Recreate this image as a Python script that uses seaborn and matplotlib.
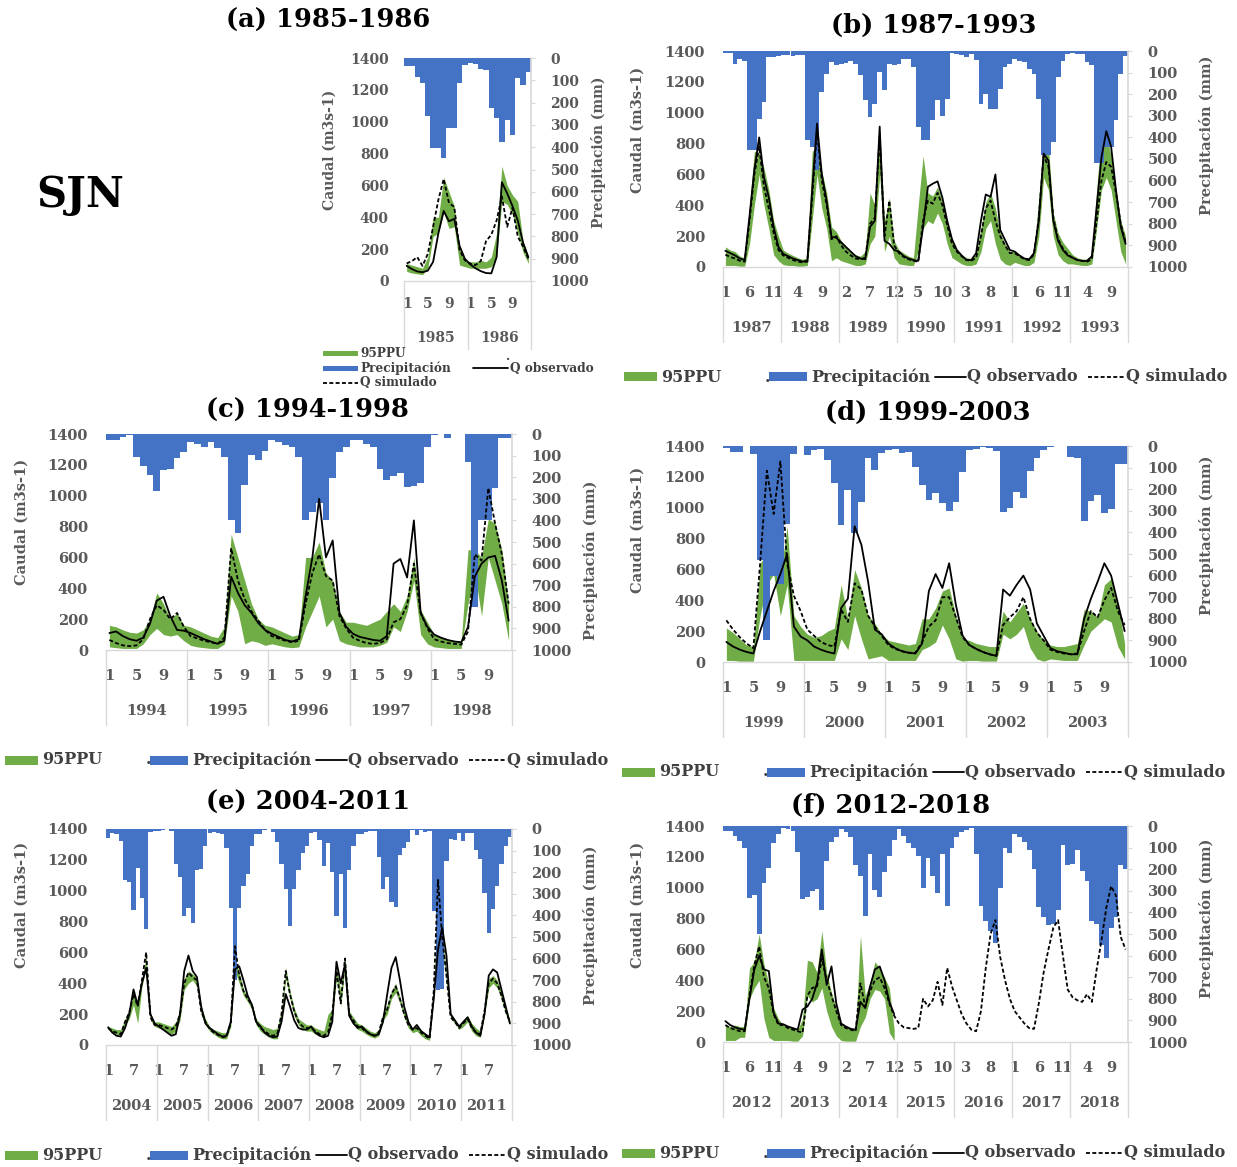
import numpy as np
import matplotlib
matplotlib.use("Agg")
import matplotlib.pyplot as plt
import matplotlib.transforms as mtransforms
from matplotlib.patches import Rectangle
from matplotlib.lines import Line2D
import seaborn as sns

# Estilo
sns.set_theme(style="white")
plt.rcParams['font.family'] = ['DejaVu Serif']
plt.rcParams['font.weight'] = 'bold'
plt.rcParams['axes.labelweight'] = 'bold'

# ---------------- datos (mensuales) ----------------
# (a) 1985-1986
prec_a = [37, 37, 85, 110, 260, 405, 405, 450, 312, 312, 112, 30,
          22, 25, 50, 52, 225, 270, 375, 277, 345, 90, 120, 65]
obs_a = [95, 75, 60, 55, 65, 120, 300, 440, 375, 390, 220, 140,
         105, 80, 62, 50, 48, 150, 620, 550, 470, 380, 240, 150]
sim_a = [110, 125, 150, 95, 170, 340, 510, 640, 490, 465, 195, 130,
         110, 100, 125, 250, 290, 380, 530, 340, 460, 280, 215, 140]
hi_a = [110, 100, 90, 80, 150, 400, 400, 650, 560, 470, 200, 130,
        120, 120, 130, 120, 150, 300, 720, 600, 540, 500, 250, 150]
lo_a = [60, 50, 45, 40, 80, 280, 300, 430, 330, 340, 100, 90,
        80, 80, 80, 80, 90, 150, 500, 480, 420, 300, 180, 110]

# (b) 1987-1993
prec_b = [10, 10, 62, 35, 46, 460, 460, 313, 236, 30, 30, 25,
          20, 20, 22, 20, 18, 413, 444, 552, 190, 105, 51, 66,
          60, 55, 45, 60, 110, 228, 305, 244, 97, 182, 62, 66,
          58, 35, 35, 74, 352, 413, 413, 320, 228, 300, 220, 10,
          15, 20, 30, 12, 40, 244, 198, 267, 267, 175, 74, 59,
          35, 45, 50, 82, 105, 220, 480, 480, 420, 120, 45, 12,
          10, 12, 15, 50, 66, 520, 520, 445, 445, 320, 105, 25]
obs_b = [105, 90, 75, 55, 45, 330, 630, 840, 580, 450, 260, 130,
         85, 70, 55, 45, 35, 40, 500, 930, 600, 430, 195, 190,
         160, 130, 100, 70, 55, 50, 260, 300, 910, 170, 150, 110,
         100, 70, 55, 45, 40, 260, 520, 540, 555, 450, 300, 180,
         110, 75, 45, 45, 90, 300, 470, 455, 600, 240, 175, 110,
         100, 75, 55, 50, 90, 300, 735, 690, 300, 170, 110, 75,
         60, 45, 40, 40, 70, 390, 710, 880, 780, 500, 260, 150]
sim_b = [80, 65, 55, 40, 35, 300, 600, 780, 520, 380, 220, 110,
         75, 60, 45, 35, 30, 35, 450, 880, 560, 400, 180, 200,
         140, 100, 75, 55, 50, 60, 280, 320, 850, 200, 430, 140,
         90, 65, 50, 40, 35, 300, 430, 410, 480, 400, 270, 150,
         100, 70, 45, 40, 60, 200, 380, 430, 300, 200, 140, 90,
         90, 70, 50, 45, 80, 320, 720, 650, 320, 180, 120, 80,
         60, 45, 40, 35, 50, 300, 560, 680, 650, 480, 280, 160]
hi_b = [130, 110, 100, 70, 60, 400, 750, 740, 640, 500, 300, 200,
        110, 90, 75, 60, 50, 60, 750, 780, 620, 480, 260, 230,
        170, 130, 100, 80, 70, 100, 480, 400, 880, 300, 450, 170,
        110, 90, 70, 60, 400, 720, 480, 460, 520, 420, 280, 170,
        110, 80, 60, 55, 80, 250, 420, 480, 380, 220, 150, 100,
        100, 80, 60, 55, 100, 450, 820, 780, 350, 220, 160, 120,
        80, 60, 50, 50, 80, 500, 880, 860, 720, 500, 300, 200]
lo_b = [10, 10, 10, 5, 5, 150, 400, 600, 400, 250, 80, 40,
        15, 10, 10, 5, 5, 10, 300, 600, 380, 250, 40, 60,
        40, 30, 20, 10, 10, 20, 150, 200, 600, 100, 200, 60,
        20, 15, 10, 10, 100, 250, 300, 280, 350, 280, 150, 60,
        40, 20, 10, 10, 20, 100, 250, 300, 150, 50, 20, 10,
        30, 20, 10, 10, 30, 200, 580, 500, 200, 80, 40, 20,
        20, 15, 10, 10, 20, 250, 500, 580, 500, 300, 100, 20]

# (c) 1994-1998
prec_c = [30, 28, 12, 5, 105, 150, 190, 265, 167, 160, 112, 82,
          35, 45, 58, 35, 65, 105, 400, 460, 235, 95, 120, 80,
          28, 35, 50, 60, 105, 400, 360, 320, 400, 205, 85, 60,
          30, 30, 45, 60, 160, 215, 195, 180, 245, 240, 225, 60,
          5, 0, 20, 0, 0, 130, 800, 400, 400, 250, 20, 20]
obs_c = [110, 120, 90, 70, 60, 80, 170, 320, 345, 220, 130, 125,
         110, 90, 70, 55, 40, 60, 475, 370, 290, 240, 175, 130,
         105, 85, 65, 55, 70, 350, 600, 980, 600, 710, 240, 150,
         105, 85, 75, 65, 60, 90, 560, 590, 470, 840, 240, 150,
         100, 80, 65, 55, 50, 150, 475, 560, 600, 610, 450, 190]
sim_c = [65, 45, 30, 25, 30, 70, 200, 290, 260, 200, 240, 150,
         90, 75, 60, 50, 40, 80, 660, 450, 330, 250, 190, 130,
         90, 75, 60, 50, 60, 300, 500, 620, 480, 450, 220, 140,
         80, 60, 45, 40, 45, 70, 180, 200, 290, 560, 240, 140,
         70, 55, 45, 40, 35, 120, 620, 580, 1050, 820, 620, 300]
hi_c = [160, 150, 130, 115, 110, 130, 200, 370, 300, 200, 240, 160,
        150, 130, 110, 90, 80, 150, 750, 600, 450, 300, 200, 160,
        150, 130, 110, 90, 100, 600, 600, 700, 500, 450, 250, 180,
        180, 170, 160, 180, 200, 250, 300, 250, 350, 600, 260, 180,
        100, 80, 70, 60, 60, 650, 650, 600, 850, 820, 650, 300]
lo_c = [20, 15, 10, 10, 10, 40, 100, 140, 100, 90, 100, 60,
        30, 20, 15, 10, 10, 40, 350, 250, 40, 60, 50, 30,
        40, 30, 20, 15, 20, 150, 250, 350, 150, 200, 60, 40,
        30, 20, 20, 20, 30, 50, 150, 120, 250, 450, 100, 40,
        20, 15, 10, 10, 10, 300, 500, 220, 600, 450, 300, 60]

# (d) 1999-2003
prec_d = [10, 30, 30, 0, 35, 530, 900, 600, 640, 360, 35, 0,
          42, 20, 15, 65, 173, 366, 204, 405, 258, 57, 111, 34,
          19, 15, 34, 30, 96, 181, 250, 216, 263, 300, 260, 120,
          20, 15, 5, 10, 25, 305, 285, 215, 240, 115, 55, 20,
          5, 0, 0, 50, 55, 345, 255, 225, 310, 290, 85, 85]
obs_d = [130, 100, 80, 65, 55, 200, 330, 460, 570, 700, 230, 165,
         140, 100, 80, 65, 55, 350, 410, 880, 760, 520, 210, 180,
         120, 90, 70, 60, 55, 120, 460, 570, 480, 640, 370, 170,
         110, 85, 65, 50, 40, 470, 430, 500, 560, 470, 250, 170,
         90, 70, 60, 50, 50, 280, 410, 520, 640, 560, 380, 200]
sim_d = [270, 210, 160, 120, 90, 640, 1240, 960, 1300, 640, 430, 330,
         210, 170, 130, 110, 100, 340, 260, 510, 470, 300, 230, 170,
         110, 85, 70, 60, 60, 130, 230, 270, 420, 420, 290, 160,
         110, 85, 65, 50, 40, 240, 290, 330, 420, 280, 190, 140,
         80, 65, 55, 50, 55, 200, 330, 290, 400, 480, 330, 240]
hi_d = [220, 190, 150, 110, 100, 640, 700, 860, 560, 880, 300, 230,
        180, 160, 170, 200, 220, 500, 280, 600, 480, 300, 250, 180,
        140, 130, 120, 110, 120, 280, 280, 350, 460, 480, 300, 150,
        140, 120, 110, 100, 100, 330, 260, 320, 380, 280, 200, 140,
        110, 100, 100, 110, 120, 340, 330, 290, 500, 540, 380, 120]
lo_d = [10, 10, 5, 5, 5, 300, 500, 570, 300, 500, 10, 10,
        10, 10, 10, 10, 10, 150, 80, 300, 150, 20, 30, 40,
        10, 10, 10, 10, 10, 80, 100, 130, 240, 150, 20, 5,
        10, 10, 5, 5, 5, 180, 150, 180, 230, 90, 20, 5,
        20, 15, 10, 10, 10, 110, 200, 240, 280, 260, 100, 20]

# (e) 2004-2011
prec_e = [40, 20, 25, 55, 235, 245, 375, 180, 320, 465, 15, 10,
          10, 5, 0, 10, 160, 220, 405, 365, 435, 190, 185, 80,
          18, 15, 20, 25, 90, 365, 700, 365, 265, 210, 80, 25,
          25, 5, 0, 15, 60, 160, 280, 450, 280, 190, 110, 80,
          18, 15, 50, 170, 65, 200, 405, 210, 460, 190, 80, 25,
          25, 15, 10, 10, 130, 280, 220, 340, 360, 120, 90, 60,
          5, 30, 5, 15, 10, 380, 745, 740, 150, 45, 50, 20,
          55, 20, 20, 95, 140, 295, 480, 370, 265, 160, 80, 35]
obs_e = [115, 80, 60, 55, 110, 200, 360, 260, 400, 500, 200, 140,
         120, 100, 80, 60, 70, 200, 480, 580, 480, 440, 250, 140,
         110, 90, 70, 55, 60, 150, 490, 510, 420, 320, 260, 150,
         120, 80, 60, 50, 55, 150, 330, 250, 160, 110, 100, 100,
         120, 80, 60, 50, 60, 150, 540, 400, 520, 190, 140, 110,
         120, 90, 70, 60, 70, 150, 330, 500, 570, 420, 250, 150,
         100, 130, 90, 70, 50, 300, 620, 760, 580, 200, 160, 120,
         150, 180, 120, 80, 60, 200, 450, 490, 470, 360, 250, 140]
sim_e = [110, 90, 80, 70, 150, 210, 330, 250, 420, 600, 180, 130,
         130, 120, 110, 100, 120, 200, 400, 470, 440, 420, 220, 150,
         105, 80, 65, 50, 55, 140, 640, 450, 350, 300, 260, 150,
         110, 90, 70, 60, 70, 200, 480, 330, 220, 150, 120, 110,
         110, 90, 70, 60, 80, 200, 480, 270, 560, 200, 160, 120,
         110, 85, 70, 60, 80, 180, 230, 330, 380, 300, 200, 130,
         100, 110, 80, 60, 40, 350, 1070, 700, 450, 180, 150, 110,
         140, 170, 110, 80, 70, 220, 400, 430, 400, 320, 220, 150]
hi_e = [120, 110, 100, 100, 170, 230, 320, 280, 420, 580, 200, 150,
        150, 140, 130, 120, 150, 230, 430, 480, 460, 430, 250, 170,
        120, 100, 90, 80, 80, 170, 560, 470, 360, 310, 270, 170,
        140, 120, 110, 100, 110, 230, 500, 350, 240, 170, 150, 130,
        130, 110, 100, 90, 200, 230, 500, 350, 580, 220, 180, 140,
        130, 110, 90, 80, 100, 210, 260, 350, 400, 310, 220, 150,
        110, 120, 100, 70, 60, 360, 1000, 720, 460, 200, 160, 120,
        160, 190, 140, 110, 90, 240, 430, 450, 420, 340, 240, 160]
lo_e = [100, 80, 70, 60, 130, 170, 260, 140, 380, 500, 160, 120,
        110, 100, 80, 70, 90, 160, 360, 400, 420, 380, 200, 130,
        90, 70, 50, 40, 40, 120, 480, 400, 320, 280, 230, 130,
        90, 70, 50, 40, 40, 170, 430, 300, 190, 130, 100, 90,
        90, 70, 60, 50, 90, 170, 430, 250, 500, 180, 140, 100,
        90, 70, 55, 45, 60, 160, 200, 300, 340, 270, 180, 110,
        80, 90, 60, 40, 30, 300, 900, 650, 400, 170, 140, 100,
        120, 150, 90, 60, 50, 190, 370, 400, 370, 300, 200, 130]

# (f) 2012-2018 (observado y 95PPU solo hasta 2014)
prec_f = [25, 25, 45, 70, 100, 335, 320, 500, 265, 195, 80, 35,
          8, 15, 25, 120, 340, 330, 300, 290, 390, 160, 75, 50,
          15, 30, 50, 180, 230, 415, 130, 295, 330, 215, 140, 65,
          15, 45, 80, 100, 140, 285, 150, 230, 310, 130, 370, 100,
          50, 30, 20, 8, 130, 370, 440, 485, 540, 285, 100, 125,
          35, 50, 75, 110, 200, 375, 420, 460, 455, 390, 90, 180,
          175, 110, 210, 255, 440, 455, 550, 610, 470, 420, 180, 200]
obs_f = [135, 110, 95, 85, 80, 280, 470, 560, 470, 460, 190, 120,
         115, 100, 90, 80, 210, 230, 280, 380, 600, 370, 490, 250,
         120, 100, 85, 80, 260, 220, 360, 470, 490, 400, 260, 180]
sim_f = [110, 90, 80, 70, 70, 300, 500, 620, 420, 350, 180, 110,
         110, 90, 80, 70, 60, 300, 350, 360, 540, 400, 300, 200,
         110, 90, 80, 70, 380, 230, 330, 400, 420, 350, 250, 170,
         120, 95, 90, 85, 90, 280, 230, 270, 390, 240, 480, 360,
         270, 180, 120, 80, 70, 200, 480, 700, 790, 550, 400, 280,
         200, 160, 120, 90, 85, 250, 450, 600, 740, 790, 560, 340,
         290, 270, 260, 310, 260, 470, 660, 870, 1010, 950, 680, 600]
hi_f = [110, 100, 110, 100, 100, 480, 520, 700, 500, 380, 220, 150,
        110, 100, 90, 80, 150, 530, 520, 450, 720, 450, 320, 220,
        120, 100, 90, 80, 690, 300, 380, 520, 480, 420, 350, 80]
lo_f = [10, 10, 10, 30, 30, 280, 350, 400, 150, 30, 10, 10,
        10, 10, 5, 5, 40, 300, 260, 280, 350, 200, 100, 40,
        10, 5, 5, 5, 100, 160, 280, 340, 330, 280, 60, 10]

# ---------------- figura ----------------
W, H = 1237, 1167
VERDE = "#70AD47"
AZUL = "#4472C4"
GRIS = "#595959"
LINEA = "#D9D9D9"
TXT = "#404040"

fig = plt.figure(figsize=(W / 100, H / 100), dpi=100)


def fx(px):
    return px / W


def fy(py):
    return 1 - py / H


def panel(caja, anio0, prec, obs, sim, lo, hi, paso, lab_q, lab_p,
          fs=10.5, off_mes=25, off_anio=61, largo=75, pad_izq=13):
    x0, y0, x1, y1 = caja
    w, h = x1 - x0, y1 - y0
    ax = fig.add_axes([fx(x0), fy(y1), w / W, h / H])
    n = len(prec)
    meses = np.arange(n)

    # banda 95PPU
    ax.fill_between(meses[:len(lo)], lo, hi, color=VERDE, lw=0)
    ax.set_ylim(0, 1400)
    ax.set_yticks(range(0, 1401, 200))
    ax.set_xticks(meses[::paso])
    ax.set_xticklabels([str(m % 12 + 1) for m in meses[::paso]])
    ax.tick_params(axis='y', length=0, pad=pad_izq, labelsize=fs, labelcolor=GRIS)
    ax.tick_params(axis='x', length=0, pad=(off_mes - 6) * 0.72, labelsize=fs, labelcolor=GRIS)
    for s in ['top', 'left', 'right']:
        ax.spines[s].set_visible(False)
    ax.spines['bottom'].set_color(LINEA)
    ax.spines['bottom'].set_linewidth(1)
    ax.set_ylabel('Caudal (m3s-1)', fontsize=fs, color=GRIS, va='center')
    ax.yaxis.set_label_coords((lab_q[0] - x0) / w, (y1 - lab_q[1]) / h)

    # precipitacion (eje secundario invertido)
    ax2 = ax.twinx()
    ax2.bar(meses, prec, width=1.0, color=AZUL, linewidth=0)
    ax2.set_ylim(1000, 0)
    ax2.set_yticks(range(0, 1001, 100))
    ax2.tick_params(axis='y', length=3, width=0.8, color=LINEA, pad=11,
                    labelsize=fs, labelcolor=GRIS)
    for s in ['top', 'left', 'bottom']:
        ax2.spines[s].set_visible(False)
    ax2.spines['right'].set_color(LINEA)
    ax2.set_ylabel('Precipitación (mm)', fontsize=fs, color=GRIS, va='center')
    ax2.yaxis.set_label_coords((lab_p[0] - x0) / w, (y1 - lab_p[1]) / h)

    # caudales observado y simulado
    ax3 = ax.twinx()
    sns.lineplot(x=meses[:len(obs)], y=obs, ax=ax3, color='black', lw=1.3)
    sns.lineplot(x=meses[:len(sim)], y=sim, ax=ax3, color='black', lw=1.3,
                 ls=(0, (2.2, 1.3)))
    ax3.set_ylim(0, 1400)
    ax3.axis('off')
    ax.set_xlim(-0.5, n - 0.5)

    # etiquetas de anio y separadores
    tr = mtransforms.blended_transform_factory(ax.transData, ax.transAxes)
    tr_anio = mtransforms.offset_copy(tr, fig=fig, y=-off_anio, units='dots')
    for k in range(n // 12):
        ax.text(k * 12 + 5.5, 0, str(anio0 + k), transform=tr_anio, ha='center',
                va='center', fontsize=fs, color=GRIS, clip_on=False)
    for k in range(n // 12 + 1):
        ax.add_line(Line2D([k * 12 - 0.5] * 2, [0, -largo / h], transform=tr,
                           color=LINEA, lw=1, clip_on=False))
    return ax


def texto(x, y, s, fs, **kw):
    fig.text(fx(x), fy(y), s, fontsize=fs, color=kw.pop('color', TXT), **kw)


def parche(x, y, w, h, color):
    fig.add_artist(Rectangle((fx(x), fy(y + h / 2)), w / W, h / H, color=color,
                             transform=fig.transFigure, lw=0))


def linea(x, y, w, ls='-'):
    fig.add_artist(Line2D([fx(x), fx(x + w)], [fy(y), fy(y)], color='black',
                          lw=1.3, ls=ls, transform=fig.transFigure))


def leyenda(x0, y, fs=11.5):
    parche(x0 + 2, y, 33, 9, VERDE)
    texto(x0 + 39, y, '95PPU', fs, va='center')
    texto(x0 + 143, y, '.', fs, va='center')
    parche(x0 + 147, y, 38, 9, AZUL)
    texto(x0 + 189, y, 'Precipitación', fs, va='center')
    linea(x0 + 313, y, 31)
    texto(x0 + 345, y, 'Q observado', fs, va='center')
    linea(x0 + 466, y, 37, ls=(0, (2.2, 1.3)))
    texto(x0 + 504, y, 'Q simulado', fs, va='center')


# paneles
panel((404, 58, 531, 281), 1985, prec_a, obs_a, sim_a, lo_a, hi_a, 4,
      (330, 150), (598, 152), fs=10, off_mes=22, off_anio=57, largo=68, pad_izq=11)
panel((723, 51, 1128, 267), 1987, prec_b, obs_b, sim_b, lo_b, hi_b, 5,
      (638, 130), (1207, 135))
panel((106, 434, 512, 650), 1994, prec_c, obs_c, sim_c, lo_c, hi_c, 4,
      (22, 522), (590, 560))
panel((723, 446, 1128, 662), 1999, prec_d, obs_d, sim_d, lo_d, hi_d, 4,
      (638, 530), (1207, 535))
panel((106, 829, 512, 1045), 2004, prec_e, obs_e, sim_e, lo_e, hi_e, 6,
      (22, 905), (590, 925))
panel((723, 826, 1128, 1042), 2012, prec_f, obs_f, sim_f, lo_f, hi_f, 5,
      (638, 905), (1207, 918))

# titulos
for s, cx, cy in [('(a) 1985-1986', 328, 20), ('(b) 1987-1993', 934, 25),
                  ('(c) 1994-1998', 307, 410), ('(d) 1999-2003', 928, 412),
                  ('(e) 2004-2011', 308, 802), ('(f) 2012-2018', 891, 805)]:
    texto(cx, cy, s, 18.5, ha='center', va='center', color='black')

texto(80, 195, 'SJN', 30, ha='center', va='center', color='black')

# leyendas
leyenda(622, 377)
leyenda(3, 760)
leyenda(620, 772)
leyenda(3, 1155)
leyenda(620, 1153)

# leyenda del panel (a)
fsa = 8.7
parche(323, 353, 35, 5, VERDE)
texto(360, 353, '95PPU', fsa, va='center')
parche(323, 368, 35, 5, AZUL)
texto(360, 368, 'Precipitación', fsa, va='center')
texto(506, 357, '.', fsa, va='center')
linea(473, 368, 35)
texto(510, 368, 'Q observado', fsa, va='center')
linea(323, 383, 35, ls=(0, (2.2, 1.3)))
texto(360, 383, 'Q simulado', fsa, va='center')

fig.savefig("out.png", dpi=100)
